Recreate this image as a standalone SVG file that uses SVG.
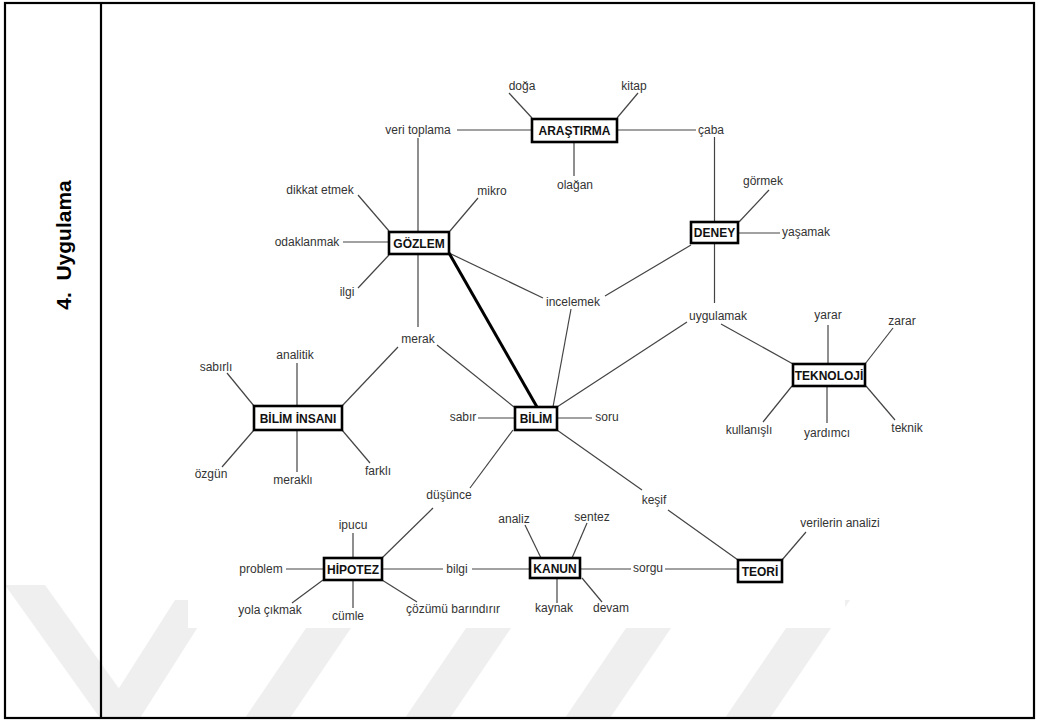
<svg xmlns="http://www.w3.org/2000/svg" width="1038" height="722" viewBox="0 0 1038 722">
  <style>
    .lbl { font-family: "Liberation Sans", Arial, sans-serif; font-size: 12px; fill: #333; text-anchor: middle; }
    .node rect { fill: #fff; stroke: #000; stroke-width: 2.6; }
    .node text { font-family: "Liberation Sans", Arial, sans-serif; font-size: 12px; font-weight: bold; fill: #111; text-anchor: middle; }
    .edge { stroke: #444; stroke-width: 1.2; fill: none; }
    .strong { stroke: #000; stroke-width: 3; fill: none; }
    .wm { fill: #efefef; }
    .frame { fill: none; stroke: #000; stroke-width: 2.2; }
  </style>

  <rect x="0" y="0" width="1038" height="722" fill="#fff"/>

  <!-- faint background stripes -->
  <g id="watermark">
    <polygon class="wm" points="5,585 45,585 140,718 100,718"/>
    <polygon class="wm" points="100,718 140,718 215,600 175,600"/>
    <polygon class="wm" points="245,718 290,718 370,600 325,600"/>
    <polygon class="wm" points="405,718 450,718 530,600 485,600"/>
    <polygon class="wm" points="565,718 610,718 690,600 645,600"/>
    <polygon class="wm" points="725,718 770,718 850,600 805,600"/>
  </g>
  <!-- white backing of the concept map -->
  <rect x="188" y="4" width="657" height="624" fill="#fff"/>

  <!-- table frame -->
  <g id="frame">
    <rect class="frame" x="5" y="3" width="1029" height="715"/>
    <line class="frame" x1="101" y1="3" x2="101" y2="718"/>
    <text xml:space="preserve" transform="translate(71,245) rotate(-90)" font-family="Liberation Sans, Arial, sans-serif" font-size="21" font-weight="bold" fill="#000" text-anchor="middle">4.  Uygulama</text>
  </g>

  <g id="connectors">
    <!-- ARAŞTIRMA -->
    <line class="edge" x1="509" y1="93" x2="532" y2="118"/>
    <line class="edge" x1="638" y1="93" x2="617" y2="118"/>
    <line class="edge" x1="457" y1="130" x2="531" y2="130"/>
    <line class="edge" x1="617" y1="130" x2="696" y2="130"/>
    <line class="edge" x1="574" y1="142" x2="574" y2="176"/>
    <line class="edge" x1="418" y1="138" x2="418" y2="327"/>
    <line class="edge" x1="714.5" y1="137" x2="714.5" y2="303"/>
    <!-- GÖZLEM -->
    <line class="edge" x1="358" y1="195" x2="389" y2="231"/>
    <line class="edge" x1="478" y1="198" x2="450" y2="231"/>
    <line class="edge" x1="343" y1="242" x2="388" y2="242"/>
    <line class="edge" x1="358" y1="288" x2="389" y2="255"/>
    <line class="edge" x1="449" y1="253" x2="543" y2="298"/>
    <line class="strong" x1="449" y1="253" x2="537" y2="407"/>
    <!-- DENEY -->
    <line class="edge" x1="769" y1="190" x2="739" y2="222"/>
    <line class="edge" x1="739" y1="233" x2="780" y2="233"/>
    <line class="edge" x1="691" y1="245" x2="605" y2="296"/>
    <line class="edge" x1="571" y1="309" x2="553" y2="407"/>
    <line class="edge" x1="687" y1="322" x2="557" y2="407"/>
    <line class="edge" x1="721" y1="324" x2="793" y2="364"/>
    <!-- TEKNOLOJİ -->
    <line class="edge" x1="828" y1="325" x2="828" y2="364"/>
    <line class="edge" x1="893" y1="328" x2="865" y2="364"/>
    <line class="edge" x1="792" y1="386" x2="763" y2="422"/>
    <line class="edge" x1="827" y1="386" x2="827" y2="423"/>
    <line class="edge" x1="866" y1="386" x2="895" y2="420"/>
    <!-- merak / BİLİM İNSANI -->
    <line class="edge" x1="437" y1="345" x2="514" y2="407"/>
    <line class="edge" x1="398" y1="347" x2="342" y2="406"/>
    <line class="edge" x1="297" y1="363" x2="297" y2="406"/>
    <line class="edge" x1="227" y1="373" x2="254" y2="406"/>
    <line class="edge" x1="254" y1="430" x2="222" y2="467"/>
    <line class="edge" x1="297" y1="430" x2="297" y2="472"/>
    <line class="edge" x1="342" y1="430" x2="370" y2="463"/>
    <!-- BİLİM -->
    <line class="edge" x1="478" y1="418" x2="514" y2="418"/>
    <line class="edge" x1="557" y1="418" x2="592" y2="418"/>
    <line class="edge" x1="513" y1="430" x2="470" y2="488"/>
    <line class="edge" x1="557" y1="430" x2="642" y2="490"/>
    <line class="edge" x1="668" y1="510" x2="738" y2="560"/>
    <!-- HİPOTEZ -->
    <line class="edge" x1="433" y1="508" x2="382" y2="558"/>
    <line class="edge" x1="353" y1="533" x2="353" y2="558"/>
    <line class="edge" x1="286" y1="569" x2="323" y2="569"/>
    <line class="edge" x1="382" y1="569" x2="443" y2="569"/>
    <line class="edge" x1="472" y1="569" x2="530" y2="569"/>
    <line class="edge" x1="323" y1="580" x2="292" y2="603"/>
    <line class="edge" x1="353" y1="580" x2="353" y2="608"/>
    <line class="edge" x1="382" y1="580" x2="417" y2="602"/>
    <!-- KANUN -->
    <line class="edge" x1="525" y1="525" x2="541" y2="558"/>
    <line class="edge" x1="587" y1="523" x2="572" y2="558"/>
    <line class="edge" x1="580" y1="569" x2="631" y2="569"/>
    <line class="edge" x1="665" y1="569" x2="738" y2="569"/>
    <line class="edge" x1="557" y1="578" x2="557" y2="603"/>
    <line class="edge" x1="582" y1="578" x2="602" y2="602"/>
    <!-- TEORİ -->
    <line class="edge" x1="806" y1="532" x2="782" y2="560"/>
  </g>

  <!-- labels -->
  <g id="labels">
    <text class="lbl" x="522" y="90">doğa</text>
    <text class="lbl" x="634" y="90">kitap</text>
    <text class="lbl" x="418" y="134">veri toplama</text>
    <text class="lbl" x="711" y="134">çaba</text>
    <text class="lbl" x="575" y="189">olağan</text>
    <text class="lbl" x="320" y="194">dikkat etmek</text>
    <text class="lbl" x="492" y="195">mikro</text>
    <text class="lbl" x="307" y="246">odaklanmak</text>
    <text class="lbl" x="347" y="296">ilgi</text>
    <text class="lbl" x="763" y="185">görmek</text>
    <text class="lbl" x="806" y="236">yaşamak</text>
    <text class="lbl" x="573" y="306">incelemek</text>
    <text class="lbl" x="718" y="320">uygulamak</text>
    <text class="lbl" x="828" y="319">yarar</text>
    <text class="lbl" x="902" y="325">zarar</text>
    <text class="lbl" x="749" y="434">kullanışlı</text>
    <text class="lbl" x="827" y="437">yardımcı</text>
    <text class="lbl" x="907" y="432">teknik</text>
    <text class="lbl" x="418" y="343">merak</text>
    <text class="lbl" x="295" y="359">analitik</text>
    <text class="lbl" x="216" y="371">sabırlı</text>
    <text class="lbl" x="211" y="478">özgün</text>
    <text class="lbl" x="293" y="484">meraklı</text>
    <text class="lbl" x="378" y="475">farklı</text>
    <text class="lbl" x="463" y="421">sabır</text>
    <text class="lbl" x="607" y="421">soru</text>
    <text class="lbl" x="449" y="499">düşünce</text>
    <text class="lbl" x="654" y="504">keşif</text>
    <text class="lbl" x="353" y="529">ipucu</text>
    <text class="lbl" x="261" y="573">problem</text>
    <text class="lbl" x="457" y="573">bilgi</text>
    <text class="lbl" x="270" y="614">yola çıkmak</text>
    <text class="lbl" x="348" y="620">cümle</text>
    <text class="lbl" x="453" y="613">çözümü barındırır</text>
    <text class="lbl" x="514" y="523">analiz</text>
    <text class="lbl" x="592" y="521">sentez</text>
    <text class="lbl" x="648" y="572">sorgu</text>
    <text class="lbl" x="554" y="612">kaynak</text>
    <text class="lbl" x="611" y="612">devam</text>
    <text class="lbl" x="840" y="527">verilerin analizi</text>
  </g>

  <!-- concept boxes -->
  <g id="n-arastirma" class="node"><rect x="532" y="119" width="85" height="23"/><text x="574.5" y="135">ARAŞTIRMA</text></g>
  <g id="n-gozlem" class="node"><rect x="389" y="232" width="60" height="22"/><text x="419" y="248">GÖZLEM</text></g>
  <g id="n-deney" class="node"><rect x="691" y="222" width="47" height="21"/><text x="714.5" y="237">DENEY</text></g>
  <g id="n-bilim-insani" class="node"><rect x="254" y="406" width="88" height="24"/><text x="298" y="422.5">BİLİM İNSANI</text></g>
  <g id="n-bilim" class="node"><rect x="515" y="407" width="42" height="23"/><text x="536" y="423">BİLİM</text></g>
  <g id="n-teknoloji" class="node"><rect x="793" y="364" width="72" height="22"/><text x="829" y="379.5">TEKNOLOJİ</text></g>
  <g id="n-hipotez" class="node"><rect x="324" y="558" width="58" height="22"/><text x="353" y="574">HİPOTEZ</text></g>
  <g id="n-kanun" class="node"><rect x="530" y="558" width="50" height="20"/><text x="555" y="573">KANUN</text></g>
  <g id="n-teori" class="node"><rect x="738" y="560" width="44" height="22"/><text x="760" y="576">TEORİ</text></g>
</svg>
